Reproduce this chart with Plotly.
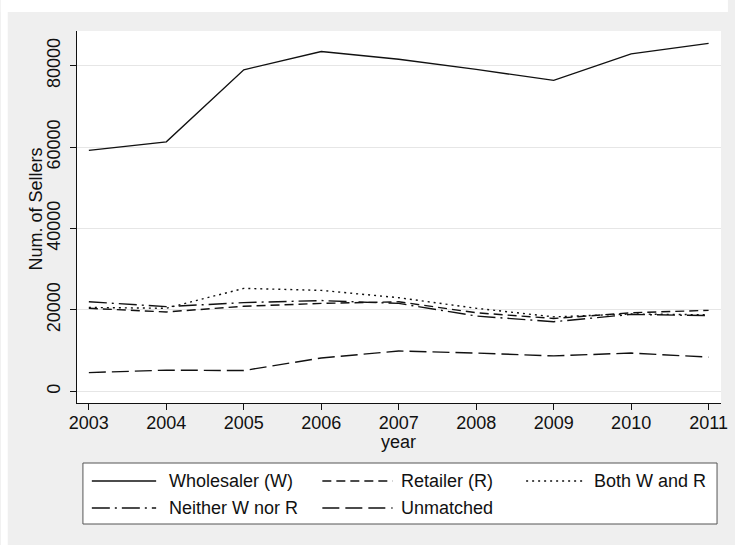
import plotly.graph_objects as go

# Number of sellers by type, 2003-2011
years = [2003, 2004, 2005, 2006, 2007, 2008, 2009, 2010, 2011]
wholesaler = [59200, 61300, 79000, 83500, 81600, 79100, 76400, 82900, 85500]
retailer = [20400, 19500, 20900, 21600, 22000, 19300, 17900, 19300, 19900]
both_wr = [20600, 20400, 25300, 24800, 23000, 20400, 18300, 19000, 18800]
neither = [22000, 20800, 21800, 22300, 21600, 18500, 17100, 18900, 18600]
unmatched = [4600, 5200, 5100, 8200, 9900, 9400, 8700, 9400, 8400]

series_names = ["Wholesaler (W)", "Retailer (R)", "Both W and R",
                "Neither W nor R", "Unmatched"]
y_ticks = [0, 20000, 40000, 60000, 80000]

FONT = "Liberation Sans, Arial, sans-serif"
INK = "#111111"
dash_styles = ["solid", "9px,5px", "2px,4px", "18px,5px,2px,5px", "17px,6px"]
series = [wholesaler, retailer, both_wr, neither, unmatched]

W, H = 735, 545
L, R, T, B = 77, 7, 31, 142
pw, ph = W - L - R, H - T - B


def px_x(x):
    return (x - L) / pw


def px_y(y):
    return (H - B - y) / ph


fig = go.Figure()
for name, vals, dash in zip(series_names, series, dash_styles):
    fig.add_trace(go.Scatter(x=years, y=vals, mode="lines", name=name,
                             line=dict(color=INK, width=1.4, dash=dash),
                             showlegend=False))

shapes = [
    # white strips round the grey graph region
    dict(type="rect", xref="paper", yref="paper", x0=px_x(0), x1=px_x(W),
         y0=px_y(0), y1=px_y(12), fillcolor="white", line_width=0, layer="below"),
    dict(type="rect", xref="paper", yref="paper", x0=px_x(0), x1=px_x(7),
         y0=px_y(0), y1=px_y(H), fillcolor="white", line_width=0, layer="below"),
    # legend box
    dict(type="rect", xref="paper", yref="paper", x0=px_x(83), x1=px_x(724),
         y0=px_y(463), y1=px_y(524), fillcolor="white",
         line=dict(color="#555555", width=1)),
]
annotations = []

# legend keys: (sample x0, sample x1, text x, row y)
key_pos = [(92, 157, 168, 481), (325, 396, 402, 481), (531, 588, 598, 481),
           (92, 157, 168, 508), (325, 396, 402, 508)]
for name, dash, (sx0, sx1, tx, ry) in zip(series_names, dash_styles, key_pos):
    shapes.append(dict(type="line", xref="paper", yref="paper",
                       x0=px_x(sx0), x1=px_x(sx1), y0=px_y(ry), y1=px_y(ry),
                       line=dict(color=INK, width=1.4, dash=dash)))
    annotations.append(dict(xref="paper", yref="paper", x=px_x(tx), y=px_y(ry),
                            text=name, showarrow=False, xanchor="left",
                            yanchor="middle", font=dict(size=18, color=INK)))

# axis titles
annotations.append(dict(xref="paper", yref="paper", x=px_x(36), y=px_y(209),
                        text="Num. of Sellers", textangle=-90, showarrow=False,
                        xanchor="center", yanchor="middle",
                        font=dict(size=18, color=INK)))
annotations.append(dict(xref="paper", yref="paper", x=px_x(402), y=px_y(442),
                        text="year", showarrow=False, xanchor="center",
                        yanchor="middle", font=dict(size=18, color=INK)))

fig.update_layout(
    width=W, height=H,
    margin=dict(l=L, r=R, t=T, b=B, pad=0),
    paper_bgcolor="#efefef",
    plot_bgcolor="white",
    font=dict(family=FONT, size=18, color=INK),
    shapes=shapes,
    annotations=annotations,
    showlegend=False,
)
fig.update_xaxes(
    range=[2002.847, 2011.16], tickvals=years, tickformat="d",
    showgrid=False, zeroline=False, showline=True, linecolor=INK, linewidth=1,
    ticks="outside", ticklen=6, tickcolor=INK, tickfont=dict(size=18),
    ticklabelstandoff=-3,
)
fig.update_yaxes(
    range=[-2870, 88530], tickvals=y_ticks, tickformat="d", tickangle=-90,
    showgrid=True, gridcolor="#e6e6e6", gridwidth=1, zeroline=False,
    showline=True, linecolor=INK, linewidth=1,
    ticks="outside", ticklen=6, tickcolor=INK, tickfont=dict(size=18),
    ticklabelstandoff=3,
)

fig.write_html("out.html")
